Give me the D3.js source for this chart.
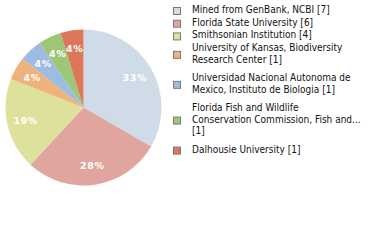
<html lang="en">
<head>
<meta charset="UTF-8">
<script src="https://d3js.org/d3.v7.min.js"></script>
<style>
    body { margin: 0; background: #fff; }
</style>
</head>
<body>
<div id="here"></div>
<script>
    // legend text, one entry per line of the wrapped label
    const labels = [
        ["Mined from GenBank, NCBI [7]"],
        ["Florida State University [6]"],
        ["Smithsonian Institution [4]"],
        ["University of Kansas, Biodiversity", "Research Center [1]"],
        ["Universidad Nacional Autonoma de", "Mexico, Instituto de Biologia [1]"],
        ["Florida Fish and Wildlife", "Conservation Commission, Fish and...", "[1]"],
        ["Dalhousie University [1]"]
    ];
    const counts = [7, 6, 4, 1, 1, 1, 1];
    const colors = ["#cfdbe6", "#e0a59e", "#dee19c", "#f0b27b", "#9ebbe0", "#9dc777", "#dc775c"];

    const w = 380, h = 240, r = 78, cx = 83.5, cy = 107.5;
    const total = d3.sum(counts);

    const svg = d3.select("#here").append("svg")
        .attr("width", w)
        .attr("height", h);

    const g = svg.append("g")
        .attr("transform", "translate(" + cx + "," + cy + ")");

    const pie = d3.pie().sort(null).value(d => d);
    const arc = d3.arc().innerRadius(0).outerRadius(r);
    const labelArc = d3.arc().innerRadius(r * 0.76).outerRadius(r * 0.76);

    const slices = g.selectAll("g.slice")
        .data(pie(counts))
        .enter().append("g")
        .attr("class", "slice");

    slices.append("path")
        .attr("fill", (d, i) => colors[i])
        .attr("d", arc);

    slices.append("text")
        .attr("transform", d => "translate(" + labelArc.centroid(d) + ")")
        .attr("text-anchor", "middle")
        .attr("dy", "0.35em")
        .attr("fill", "#fff")
        .style("font-family", "DejaVu Sans")
        .style("font-size", "9.5px")
        .style("font-weight", "bold")
        .style("letter-spacing", "0.6px")
        .text(d => Math.floor(d.data / total * 100) + "%");

    // legend: items stacked, multi-line entries get a bit more room
    const lineH = 11.5;
    let y = 13;
    const legend = svg.append("g");
    labels.forEach((lines, i) => {
        const item = legend.append("g");
        const mid = y + (lines.length - 1) * lineH / 2;
        item.append("rect")
            .attr("x", 173.5).attr("y", mid - 5.5)
            .attr("width", 7).attr("height", 7)
            .attr("fill", colors[i])
            .attr("stroke", "#7a7a7a")
            .attr("stroke-width", 1);
        item.selectAll("text")
            .data(lines)
            .enter().append("text")
            .attr("x", 192)
            .attr("y", (d, j) => y + j * lineH)
            .attr("fill", "#111")
            .style("font-family", "DejaVu Sans Condensed")
            .style("font-size", "10px")
            .text(d => d);
        y += lines.length * lineH + (lines.length > 1 ? 7 : 1.2);
    });
</script>
</body>
</html>
